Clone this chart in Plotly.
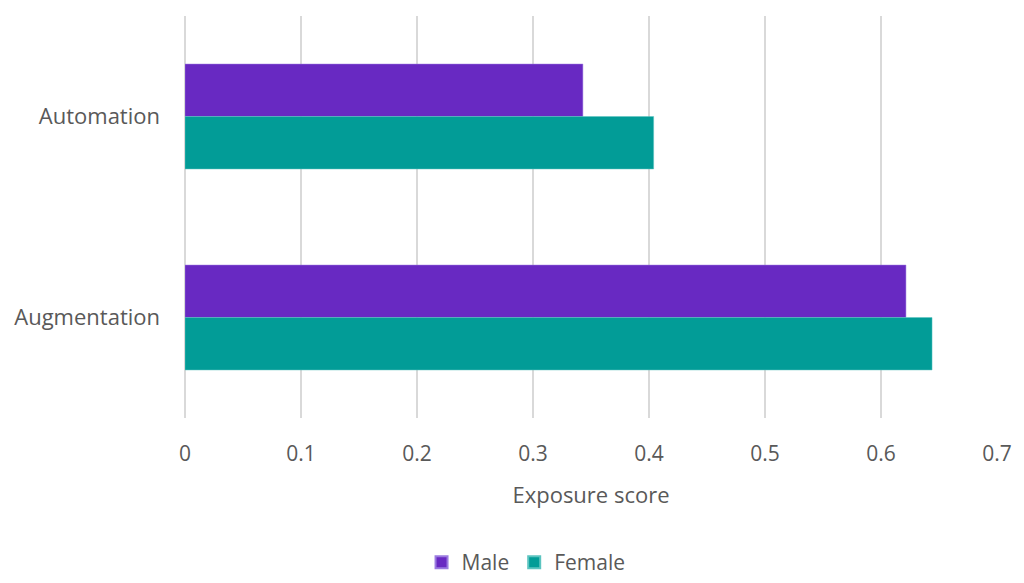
import plotly.graph_objects as go

categories = ["Automation", "Augmentation"]
male = [0.343, 0.6215]
female = [0.404, 0.644]
x_ticks = [0, 0.1, 0.2, 0.3, 0.4, 0.5, 0.6, 0.7]

fig = go.Figure()
fig.add_trace(go.Bar(y=categories, x=male, name="Male", orientation="h",
                     marker=dict(color="#6829C2", line=dict(color="#9B7BE0", width=0.5))))
fig.add_trace(go.Bar(y=categories, x=female, name="Female", orientation="h",
                     marker=dict(color="#029C97", line=dict(color="#5CC4C0", width=0.5))))

font_family = "Open Sans, Liberation Sans, sans-serif"
fig.update_layout(
    width=1024, height=583,
    margin=dict(l=185, r=18, t=16, b=165),
    paper_bgcolor="white", plot_bgcolor="white",
    barmode="group", bargap=0.478, bargroupgap=0,
    font=dict(family=font_family, color="#595959", size=21),
    showlegend=True,
    legend=dict(orientation="h", x=0.42, xanchor="center", yref="container", y=-0.016, yanchor="bottom",
                font=dict(size=21, color="#595959"), traceorder="normal",
                itemwidth=30, itemsizing="constant"),
    xaxis=dict(range=[0, 0.7], tickvals=x_ticks, ticktext=[str(t) for t in x_ticks],
               showgrid=True, gridcolor="#D9D9D9", gridwidth=2,
               zeroline=True, zerolinecolor="#D9D9D9", zerolinewidth=2,
               showline=False, ticks="", ticklabelstandoff=21,
               tickfont=dict(size=21, color="#595959"),
               title=dict(text="Exposure score", standoff=21,
                          font=dict(size=22, color="#595959"))),
    yaxis=dict(autorange="reversed", showgrid=False, showline=False, ticks="",
               ticklabelstandoff=24, tickfont=dict(size=22, color="#595959")),
)

fig.write_html("out.html")
